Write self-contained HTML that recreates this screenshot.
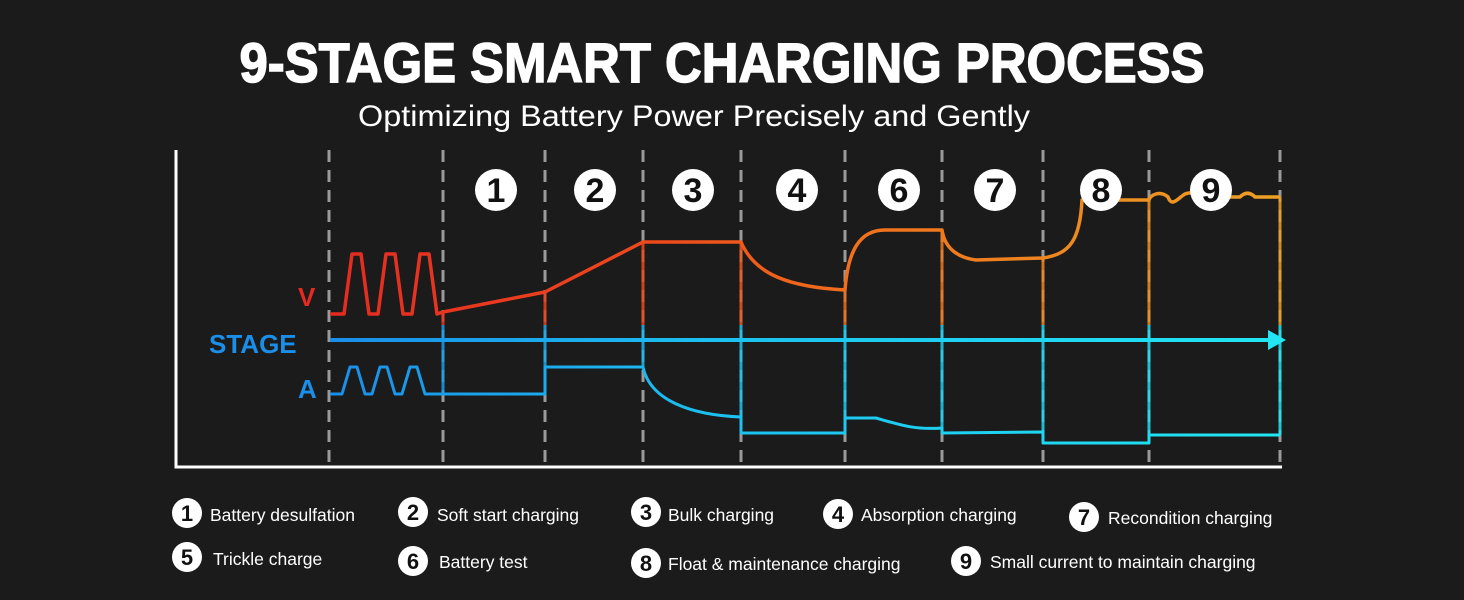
<!DOCTYPE html>
<html><head><meta charset="utf-8"><style>
html,body{margin:0;padding:0;background:#1b1b1b;}
svg{display:block;}
text{font-family:"Liberation Sans",sans-serif;}
</style></head><body>
<svg width="1464" height="600" viewBox="0 0 1464 600" xmlns="http://www.w3.org/2000/svg">
<defs>
<linearGradient id="gv" gradientUnits="userSpaceOnUse" x1="330" y1="0" x2="1280" y2="0">
<stop offset="0" stop-color="#e42a22"/><stop offset="0.35" stop-color="#ee4a1c"/><stop offset="0.55" stop-color="#f0701c"/><stop offset="1" stop-color="#eca024"/>
</linearGradient>
<linearGradient id="ga" gradientUnits="userSpaceOnUse" x1="330" y1="0" x2="1280" y2="0">
<stop offset="0" stop-color="#1a8ee8"/><stop offset="0.4" stop-color="#1cc0f0"/><stop offset="1" stop-color="#22e6f2"/>
</linearGradient>
</defs>
<rect width="1464" height="600" fill="#1b1b1b"/>
<text x="722" y="82" text-anchor="middle" fill="#fff" font-size="56" font-weight="bold" stroke="#fff" stroke-width="1.5" textLength="965" lengthAdjust="spacingAndGlyphs">9-STAGE SMART CHARGING PROCESS</text>
<text x="694" y="126" text-anchor="middle" fill="#fff" font-size="30" textLength="672" lengthAdjust="spacingAndGlyphs">Optimizing Battery Power Precisely and Gently</text>
<g stroke="#9a9a9a" stroke-width="3" stroke-dasharray="12,8">
<line x1="329" y1="150" x2="329" y2="467"/><line x1="443" y1="150" x2="443" y2="467"/><line x1="545" y1="150" x2="545" y2="467"/><line x1="643" y1="150" x2="643" y2="467"/><line x1="741" y1="150" x2="741" y2="467"/><line x1="845" y1="150" x2="845" y2="467"/><line x1="942" y1="150" x2="942" y2="467"/><line x1="1043" y1="150" x2="1043" y2="467"/><line x1="1149" y1="150" x2="1149" y2="467"/><line x1="1280" y1="150" x2="1280" y2="467"/>
</g>
<path d="M176 150 V467 H1282" stroke="#fff" stroke-width="3" fill="none"/>
<text x="298" y="306" fill="#e42a22" font-size="26" font-weight="bold">V</text>
<text x="209" y="353" fill="#1a8ee8" font-size="26" font-weight="bold">STAGE</text>
<text x="298" y="398" fill="#1a8ee8" font-size="26" font-weight="bold">A</text>
<g stroke-width="3" fill="none" opacity="0.85">
<path d="M443 312V325 M545 292V325 M643 242V325 M741 243V325 M845 290V325 M942 230V325 M1043 258V325 M1149 197V325 M1280 197V325" stroke="url(#gv)"/>
<path d="M443 325V394 M545 325V367 M643 325V367 M741 325V433 M845 325V433 M942 325V433 M1043 325V443 M1149 325V443 M1280 325V435" stroke="url(#ga)"/>
</g>
<line x1="330" y1="340" x2="1270" y2="340" stroke="url(#ga)" stroke-width="4"/>
<polygon points="1268,330 1286,340 1268,350" fill="#22e6f2"/>
<path d="M330 314 H344 L352 254 H361 L369 314 H378 L386 254 H395 L403 314 H412 L420 254 H429 L437 314 L443 312 L545 292 L643 242 H741 C755 275 790 287 845 290 C848 250 860 230 885 230 H942 C945 250 960 258 976 260 L1043 258 C1070 254 1080 240 1082 200 H1149 C1150 195 1160 190 1168 197 C1172 208 1178 198 1185 194 C1190 192 1200 192 1210 197 H1240 C1245 192 1250 192 1255 197 H1280" stroke="url(#gv)" stroke-width="3.5" fill="none" stroke-linejoin="round"/>
<path d="M330 394 H342 L350 367 H357 L365 394 H372 L380 367 H387 L395 394 H402 L410 367 H417 L425 394 H443 H545 V367 H643 C650 400 690 415 741 417 V433 H845 V418 H876 C900 425 915 430 942 428 V433 L1043 432 V443 H1149 V435 H1280" stroke="url(#ga)" stroke-width="3" fill="none" stroke-linejoin="round"/>
<g font-size="34" font-weight="bold" text-anchor="middle" fill="#111">
<circle cx="496" cy="190" r="21" fill="#fff"/><text x="496" y="202">1</text>
<circle cx="595" cy="190" r="21" fill="#fff"/><text x="595" y="202">2</text>
<circle cx="693" cy="190" r="21" fill="#fff"/><text x="693" y="202">3</text>
<circle cx="797" cy="190" r="21" fill="#fff"/><text x="797" y="202">4</text>
<circle cx="899" cy="190" r="21" fill="#fff"/><text x="899" y="202">6</text>
<circle cx="995" cy="190" r="21" fill="#fff"/><text x="995" y="202">7</text>
<circle cx="1101" cy="190" r="21" fill="#fff"/><text x="1101" y="202">8</text>
<circle cx="1211" cy="190" r="21" fill="#fff"/><text x="1211" y="202">9</text>
</g>
<g font-size="22" font-weight="bold" text-anchor="middle" fill="#111">
<circle cx="187" cy="513" r="15" fill="#fff"/><text x="187" y="521">1</text>
<circle cx="413" cy="512" r="15" fill="#fff"/><text x="413" y="520">2</text>
<circle cx="646" cy="512" r="15" fill="#fff"/><text x="646" y="520">3</text>
<circle cx="838" cy="514" r="15" fill="#fff"/><text x="838" y="522">4</text>
<circle cx="1084" cy="517" r="15" fill="#fff"/><text x="1084" y="525">7</text>
<circle cx="187" cy="557" r="15" fill="#fff"/><text x="187" y="565">5</text>
<circle cx="413" cy="561" r="15" fill="#fff"/><text x="413" y="569">6</text>
<circle cx="646" cy="563" r="15" fill="#fff"/><text x="646" y="571">8</text>
<circle cx="966" cy="561" r="15" fill="#fff"/><text x="966" y="569">9</text>
</g>
<g font-size="17.5" fill="#fff">
<text x="210" y="521">Battery desulfation</text>
<text x="437" y="521">Soft start charging</text>
<text x="668" y="521">Bulk charging</text>
<text x="861" y="521">Absorption charging</text>
<text x="1108" y="524">Recondition charging</text>
<text x="213" y="565">Trickle charge</text>
<text x="439" y="568">Battery test</text>
<text x="668" y="570">Float &amp; maintenance charging</text>
<text x="990" y="568">Small current to maintain charging</text>
</g>
</svg>
</body></html>
